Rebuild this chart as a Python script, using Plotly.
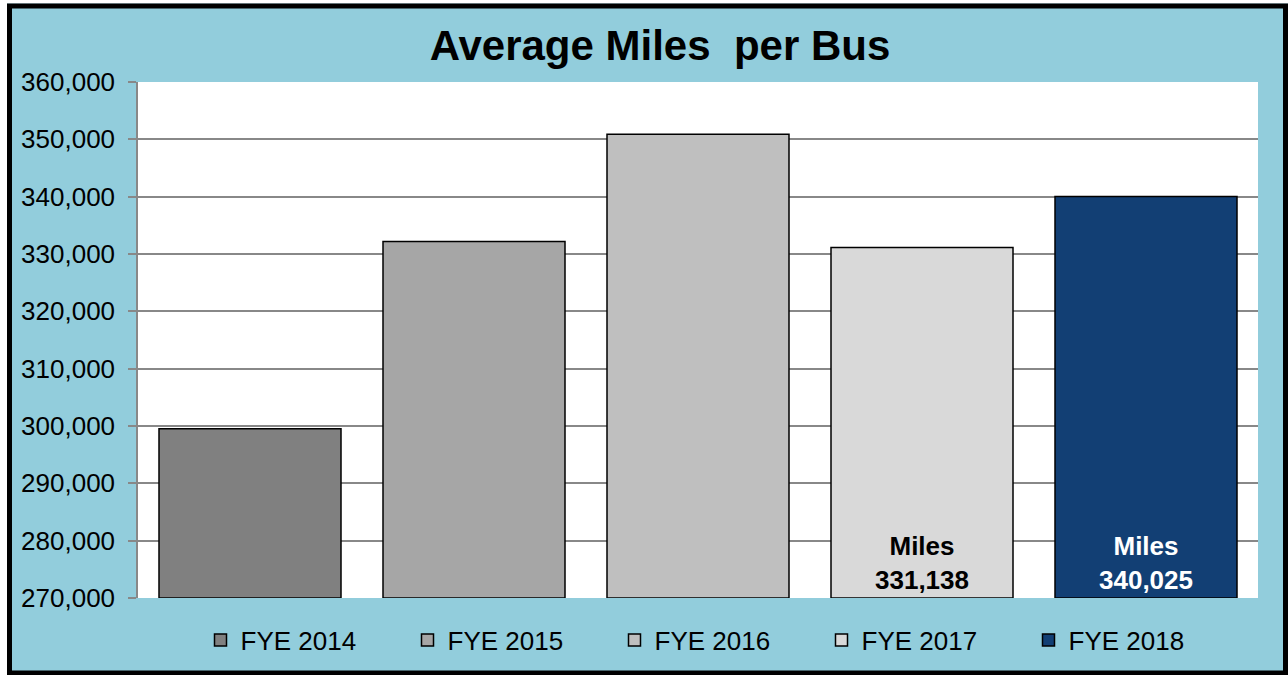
import plotly.graph_objects as go

# Data
years = ["FYE 2014", "FYE 2015", "FYE 2016", "FYE 2017", "FYE 2018"]
miles = [299500, 332200, 350900, 331138, 340025]
bar_colors = ["#808080", "#A6A6A6", "#BFBFBF", "#D9D9D9", "#123F74"]
label_colors = ["black", "black", "black", "black", "white"]
show_label = [False, False, False, True, True]

y_min, y_max, y_step = 270000, 360000, 10000
font = "Arial, Liberation Sans, sans-serif"

# plot area in pixels (used for margins and for paper-coordinate shapes)
W, H = 1288, 675
L, R, T, B = 138, 30, 82, 77
pw, ph = W - L - R, H - T - B


def px_x(p):
    return (p - L) / pw


def px_y(p):
    return (H - B - p) / ph


fig = go.Figure()

for yr, v, c, tc, lab in zip(years, miles, bar_colors, label_colors, show_label):
    fig.add_trace(go.Bar(
        x=[yr],
        y=[v - y_min],
        base=[y_min],
        name=yr,
        marker=dict(color=c, line=dict(color="black", width=1.5)),
        text=[f"Miles<br>{v:,}" if lab else ""],
        textposition="inside",
        insidetextanchor="start",
        textangle=0,
        constraintext="none",
        textfont=dict(family=font, size=26, color=tc, weight="bold"),
    ))

# outer white fringe and black frame around the chart
fig.add_shape(type="rect", xref="paper", yref="paper",
              x0=px_x(3.5), x1=px_x(1292), y0=px_y(0), y1=px_y(679),
              line=dict(color="white", width=7))
fig.add_shape(type="rect", xref="paper", yref="paper",
              x0=px_x(9.5), x1=px_x(1285.5), y0=px_y(6), y1=px_y(673),
              line=dict(color="black", width=5))

fig.update_layout(
    width=W, height=H,
    margin=dict(l=L, r=R, t=T, b=B),
    paper_bgcolor="#92CDDC",
    plot_bgcolor="white",
    barmode="overlay",
    bargap=0.1875,
    title=dict(
        text="<b>Average Miles  per Bus</b>",
        font=dict(family=font, size=42, color="black"),
        x=px_x(660), xref="paper", xanchor="center",
        y=1 - 45 / H, yref="container", yanchor="middle",
    ),
    xaxis=dict(showticklabels=False, showgrid=False, showline=False,
               zeroline=False, fixedrange=True),
    yaxis=dict(
        range=[y_min, y_max], dtick=y_step, tickformat=",d",
        showgrid=True, gridcolor="#888888", gridwidth=1.5,
        showline=True, linecolor="#888888", linewidth=1.5,
        ticks="outside", ticklen=8, tickcolor="#888888", tickwidth=1.5,
        ticklabelstandoff=8,
        tickfont=dict(family=font, size=26, color="black"),
        zeroline=False,
    ),
    legend=dict(
        orientation="h",
        x=0.5 + 20 / pw, xanchor="center", xref="paper",
        y=px_y(640), yanchor="middle",
        entrywidth=162, entrywidthmode="pixels",
        itemwidth=30,
        font=dict(family=font, size=26, color="black"),
        bgcolor="rgba(0,0,0,0)",
    ),
    showlegend=True,
)

# drop the default body margin so the figure sits at the page origin
fig.write_html("out.html", config={"displayModeBar": False},
               post_script="document.body.style.margin='0';")
